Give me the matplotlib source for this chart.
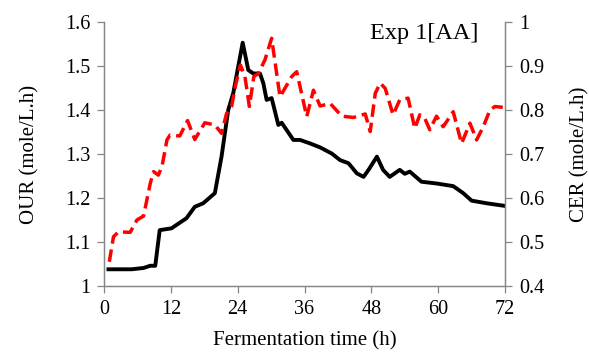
import matplotlib
matplotlib.use("Agg")
import matplotlib.pyplot as plt
from matplotlib.ticker import FuncFormatter

plt.rcParams['font.family'] = ['Liberation Serif', 'DejaVu Serif']

# OUR (left axis), black solid
our_t = [0.8, 5.0, 7.1, 8.3, 9.2, 10.0, 12.1, 14.8, 16.3, 17.8, 19.9, 21.1, 22.3, 23.2,
         24.9, 25.9, 26.8, 28.0, 28.6, 29.2, 30.1, 31.3, 31.9, 34.0, 35.2, 37.0, 38.8,
         40.9, 42.4, 43.9, 45.4, 46.6, 47.5, 49.0, 50.1, 51.3, 53.1, 54.0, 54.9, 57.0,
         59.7, 62.7, 64.5, 66.0, 68.7, 72.0]
our = [1.038, 1.038, 1.041, 1.046, 1.046, 1.127, 1.131, 1.154, 1.180, 1.188, 1.211, 1.294,
       1.400, 1.438, 1.553, 1.491, 1.483, 1.483, 1.461, 1.423, 1.427, 1.366, 1.371, 1.332,
       1.332, 1.324, 1.315, 1.301, 1.286, 1.279, 1.256, 1.248, 1.264, 1.294, 1.264, 1.248,
       1.264, 1.255, 1.260, 1.237, 1.233, 1.227, 1.211, 1.194, 1.188, 1.182]

# CER (right axis), red dashed
cer_t = [0.95, 1.7, 2.6, 4.7, 5.9, 7.1, 8.3, 8.9, 9.75, 10.4, 11.3, 11.85, 13.6, 15.0,
         16.3, 18.1, 19.9, 21.1, 22.0, 22.9, 23.7, 24.5, 25.3, 26.1, 26.9, 27.7, 28.9,
         30.1, 30.4, 31.6, 33.7, 34.6, 36.4, 37.6, 38.8, 40.6, 42.7, 44.8, 46.9, 47.8,
         48.7, 49.6, 50.5, 51.9, 53.1, 54.6, 55.8, 56.7, 57.6, 58.5, 59.7, 60.9, 62.7,
         64.2, 65.7, 66.9, 68.1, 69.3, 70.2, 71.6]
cer = [0.455, 0.512, 0.523, 0.522, 0.550, 0.559, 0.633, 0.660, 0.652, 0.671, 0.732, 0.743,
       0.741, 0.776, 0.733, 0.771, 0.766, 0.747, 0.792, 0.808, 0.861, 0.902, 0.876, 0.808,
       0.876, 0.883, 0.914, 0.963, 0.936, 0.830, 0.876, 0.887, 0.785, 0.845, 0.809, 0.815,
       0.786, 0.783, 0.791, 0.751, 0.838, 0.861, 0.849, 0.789, 0.823, 0.827, 0.758, 0.789,
       0.781, 0.755, 0.786, 0.762, 0.796, 0.724, 0.770, 0.732, 0.762, 0.800, 0.808, 0.806]

x_ticks = [0, 12, 24, 36, 48, 60, 72]

fig = plt.figure(figsize=(5.89, 3.52), dpi=100)
ax = fig.add_axes([0.1766, 0.1875, 0.6808, 0.75])
ax2 = ax.twinx()

ax.plot(our_t, our, color='black', lw=2.8, solid_joinstyle='round')
ax2.plot(cer_t, cer, color='#ff0000', lw=2.5, dashes=(3.6, 1.7))

ax.set_xlim(0, 72)
ax.set_ylim(1.0, 1.6)
ax2.set_ylim(0.4, 1.0)
ax.set_xticks(x_ticks)
ax.set_yticks([1.0, 1.1, 1.2, 1.3, 1.4, 1.5, 1.6])
ax2.set_yticks([0.4, 0.5, 0.6, 0.7, 0.8, 0.9, 1.0])
fmt = FuncFormatter(lambda v, p: f"{v:g}")
ax.yaxis.set_major_formatter(fmt)
ax2.yaxis.set_major_formatter(fmt)

gray = '#868686'
for a in (ax, ax2):
    a.spines['top'].set_visible(False)
    for s in ('left', 'right', 'bottom'):
        a.spines[s].set_color(gray)
        a.spines[s].set_linewidth(0.9)
    a.tick_params(direction='out', length=5, width=0.9, color=gray,
                  labelsize=14.5, pad=5)

ax.set_xlabel("Fermentation time (h)", fontsize=15, labelpad=9)
ax.set_ylabel("OUR (mole/L.h)", fontsize=15, labelpad=18)
ax2.set_ylabel("CER (mole/L.h)", fontsize=15, labelpad=19)
ax.text(0.933, 0.995, "Exp 1[AA]", transform=ax.transAxes, ha='right', va='top',
        fontsize=17.5)

fig.savefig("out.png", dpi=100)
